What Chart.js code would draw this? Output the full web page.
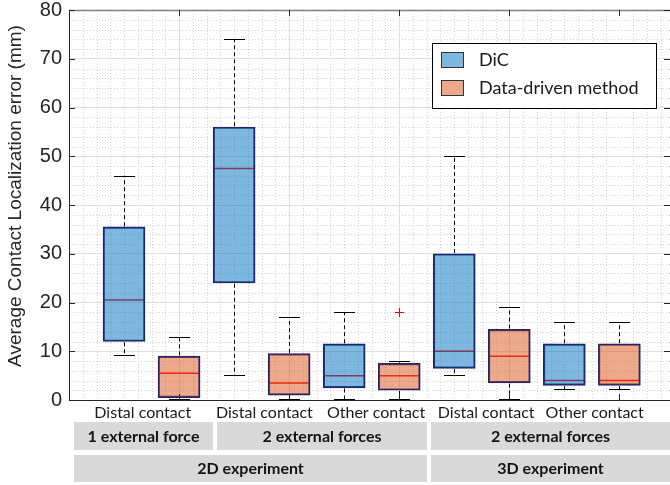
<!DOCTYPE html>
<html>
<head>
<meta charset="utf-8">
<script src="https://cdn.jsdelivr.net/npm/chart.js@4"></script>
<style>
  html, body { margin: 0; padding: 0; background: #ffffff; }
  canvas { display: block; }
</style>
</head>
<body>
<canvas id="chart" width="670" height="485"></canvas>
<script>
// Contact-type label under each pair of boxes
const contactTypes = ['Distal contact', 'Distal contact', 'Other contact', 'Distal contact', 'Other contact'];
// Header rows below the axis, and which pairs they cover
const forceGroups = ['1 external force', '2 external forces', '2 external forces'];
const forcePairs = [[0, 0], [1, 2], [3, 4]];
const experiments = ['2D experiment', '3D experiment'];
const experimentPairs = [[0, 2], [3, 4]];
const seriesNames = ['DiC', 'Data-driven method'];
const yTitle = 'Average Contact Localization error (mm)';

// Box statistics (mm): lower whisker, Q1, median, Q3, upper whisker
const dicMin = [9, 5, 0, 5, 2];
const dicQ1 = [12, 24, 2.5, 6.5, 3];
const dicMedian = [20.5, 47.5, 5, 10, 4];
const dicQ3 = [35.5, 56, 11.5, 30, 11.5];
const dicMax = [46, 74, 18, 50, 16];
const dicOutliers = [[], [], [], [], []];

const ddMin = [0, 0, 0, 0, 2];
const ddQ1 = [0.5, 1, 2, 3.5, 3];
const ddMedian = [5.5, 3.5, 5, 9, 4];
const ddQ3 = [9, 9.5, 7.5, 14.5, 11.5];
const ddMax = [13, 17, 8, 19, 16];
const ddOutliers = [[], [], [18], [], []];

const yTicks = [0, 10, 20, 30, 40, 50, 60, 70, 80];

const stats = [
  { min: dicMin, q1: dicQ1, med: dicMedian, q3: dicQ3, max: dicMax, out: dicOutliers },
  { min: ddMin, q1: ddQ1, med: ddMedian, q3: ddQ3, max: ddMax, out: ddOutliers }
];

// Position of series s within pair k on the numeric x axis
const posOf = (k, s) => 2 * k + 1 + s;

const boxData = stats.map((st, s) =>
  st.q1.map((q1, k) => ({ x: posOf(k, s), y: [q1, st.q3[k]] }))
);

const AXIS = '#262626';
const UI_FONT = 'Lato, "Open Sans", sans-serif';
const AX_FONT = '"Liberation Sans", Arial, sans-serif';

function seg(ctx, x1, y1, x2, y2) {
  ctx.beginPath(); ctx.moveTo(x1, y1); ctx.lineTo(x2, y2); ctx.stroke();
}

const boxDecor = {
  id: 'boxDecor',
  beforeDraw(chart, args, o) {
    const { ctx, chartArea: a, scales: { x, y } } = chart;
    ctx.save();
    ctx.strokeStyle = o.minorColor;
    ctx.lineWidth = 1;
    ctx.setLineDash([1, 2]);
    for (let i = 1; x.min + i * 0.25 < x.max; i++) {
      if (i % 8 === 0) continue;
      const px = Math.round(x.getPixelForValue(x.min + i * 0.25)) + 0.5;
      seg(ctx, px, a.top, px, a.bottom);
    }
    for (let v = 2; v < y.max; v += 2) {
      if (v % 10 === 0) continue;
      const py = Math.round(y.getPixelForValue(v)) + 0.5;
      seg(ctx, a.left, py, a.right, py);
    }
    ctx.restore();
  },
  // medians go underneath the translucent box fill
  beforeDatasetsDraw(chart) {
    const { ctx, scales: { y } } = chart;
    ctx.save();
    ctx.strokeStyle = '#ff0000';
    ctx.lineWidth = 1.5;
    stats.forEach((st, s) => {
      const meta = chart.getDatasetMeta(s);
      meta.data.forEach((bar, k) => {
        const py = y.getPixelForValue(st.med[k]);
        seg(ctx, bar.x - bar.width / 2 + 1, py, bar.x + bar.width / 2 - 1, py);
      });
    });
    ctx.restore();
  },
  afterDatasetsDraw(chart) {
    const { ctx, scales: { y } } = chart;
    ctx.save();
    stats.forEach((st, s) => {
      const meta = chart.getDatasetMeta(s);
      meta.data.forEach((bar, k) => {
        const cx = Math.round(bar.x) + 0.5;
        const pMax = y.getPixelForValue(st.max[k]);
        const pMin = y.getPixelForValue(st.min[k]);
        const pQ3 = y.getPixelForValue(st.q3[k]);
        const pQ1 = y.getPixelForValue(st.q1[k]);
        ctx.strokeStyle = '#000000';
        ctx.lineWidth = 1;
        ctx.setLineDash([4, 3]);
        if (pMax < pQ3 - 1) seg(ctx, cx, pQ3 - 0.75, cx, pMax);
        if (pMin > pQ1 + 1) seg(ctx, cx, pQ1 + 0.75, cx, pMin);
        ctx.setLineDash([]);
        const cap = 10.5;
        seg(ctx, cx - cap, Math.round(pMax) + 0.5, cx + cap, Math.round(pMax) + 0.5);
        seg(ctx, cx - cap, Math.round(pMin) - 0.5, cx + cap, Math.round(pMin) - 0.5);
        ctx.strokeStyle = '#ff0000';
        st.out[k].forEach(v => {
          const py = Math.round(y.getPixelForValue(v)) + 0.5;
          seg(ctx, cx - 4.5, py, cx + 4.5, py);
          seg(ctx, cx, py - 4.5, cx, py + 4.5);
        });
      });
    });
    ctx.restore();
  },
  afterDraw(chart, args, o) {
    const { ctx, chartArea: a, scales: { x, y } } = chart;
    ctx.save();

    // top frame line
    ctx.strokeStyle = '#808080';
    ctx.lineWidth = 1.5;
    seg(ctx, a.left, a.top + 0.5, a.right, a.top + 0.5);

    // inward tick marks
    ctx.strokeStyle = AXIS;
    ctx.lineWidth = 1;
    const tl = 6;
    yTicks.forEach(v => {
      const py = Math.round(y.getPixelForValue(v)) + 0.5;
      seg(ctx, a.left, py, a.left + tl, py);
      seg(ctx, a.right, py, a.right - tl, py);
    });
    for (let v = 2; v < x.max; v += 2) {
      const px = Math.round(x.getPixelForValue(v)) + 0.5;
      seg(ctx, px, a.bottom, px, a.bottom - tl);
      seg(ctx, px, a.top, px, a.top + tl);
    }

    // y-axis title, rotated
    ctx.save();
    ctx.translate(o.titleX, a.top + o.titleMid);
    ctx.rotate(-Math.PI / 2);
    ctx.fillStyle = AXIS;
    ctx.font = '19px ' + AX_FONT;
    ctx.textAlign = 'center';
    ctx.textBaseline = 'middle';
    ctx.fillText(yTitle, 0, 0);
    ctx.restore();

    // legend box
    const lx = a.right - 238, ly = a.top + 33, lw = 224, lh = 65;
    ctx.fillStyle = '#ffffff';
    ctx.fillRect(lx, ly, lw, lh);
    ctx.strokeStyle = '#000000';
    ctx.lineWidth = 1;
    ctx.strokeRect(lx + 0.5, ly + 0.5, lw, lh);
    chart.data.datasets.forEach((ds, i) => {
      const py = ly + 9 + i * 28;
      ctx.fillStyle = ds.legendColor;
      ctx.fillRect(lx + 9, py, 23, 16);
      ctx.strokeStyle = '#333333';
      ctx.strokeRect(lx + 9.5, py + 0.5, 22, 15);
      ctx.fillStyle = '#1a1a1a';
      ctx.font = '18px ' + UI_FONT;
      ctx.textAlign = 'left';
      ctx.textBaseline = 'middle';
      ctx.fillText(ds.label, lx + 47, py + 8.5);
    });

    // contact-type labels
    ctx.fillStyle = '#1a1a1a';
    ctx.font = '16px ' + UI_FONT;
    ctx.textAlign = 'center';
    ctx.textBaseline = 'middle';
    contactTypes.forEach((t, k) => {
      ctx.fillText(t, x.getPixelForValue(o.labelAt[k]), a.bottom + 13);
    });

    // header cells
    const edges = o.cellEdges;
    const cellX = (k0, k1) => {
      const l = k0 === 0 ? a.left + 4.5 : x.getPixelForValue(edges[k0]) + 2;
      const r = k1 === edges.length - 2 ? a.right : x.getPixelForValue(edges[k1 + 1]) - 2;
      return [Math.round(l), Math.round(r)];
    };
    const row = (names, spans, top, h) => {
      names.forEach((t, i) => {
        const [l, r] = cellX(spans[i][0], spans[i][1]);
        ctx.fillStyle = '#d9d9d9';
        ctx.fillRect(l, top, r - l, h);
        ctx.fillStyle = '#141414';
        ctx.font = 'bold 16px ' + UI_FONT;
        ctx.fillText(t, (l + r) / 2, top + h / 2 + 0.5);
      });
    };
    row(forceGroups, forcePairs, a.bottom + 22, 28);
    row(experiments, experimentPairs, a.bottom + 55, 27);

    ctx.restore();
  }
};

new Chart(document.getElementById('chart'), {
  type: 'bar',
  data: {
    datasets: [
      {
        label: seriesNames[0],
        data: boxData[0],
        backgroundColor: 'rgba(0,114,189,0.5)',
        legendColor: '#7fb8de',
        borderColor: '#24246a',
        borderWidth: 1.5,
        borderSkipped: false,
        grouped: false,
        barThickness: 42
      },
      {
        label: seriesNames[1],
        data: boxData[1],
        backgroundColor: 'rgba(217,83,25,0.5)',
        legendColor: '#eca98c',
        borderColor: '#24246a',
        borderWidth: 1.5,
        borderSkipped: false,
        grouped: false,
        barThickness: 42
      }
    ]
  },
  options: {
    responsive: false,
    animation: false,
    devicePixelRatio: 1,
    layout: { padding: { top: 10, right: 0, bottom: 85, left: 0 } },
    plugins: {
      legend: { display: false },
      tooltip: { enabled: false },
      boxDecor: {
        minorColor: '#d4d4d4',
        labelAt: [1.34, 3.55, 5.58, 7.58, 9.55],
        cellEdges: [0, 2.655, 4.6, 6.545, 8.6, 10.93],
        titleX: 16,
        titleMid: 186
      }
    },
    scales: {
      x: {
        type: 'linear',
        offset: false,
        min: 0,
        max: 10.92,
        afterFit: s => { s.height = 0; s.paddingLeft = 0; s.paddingRight = 0; },
        ticks: { display: false, stepSize: 2 },
        grid: { color: '#dfdfdf', lineWidth: 1, drawTicks: false, offset: false },
        border: { color: AXIS, width: 1 }
      },
      y: {
        min: 0,
        max: 80,
        afterFit: s => { s.width = 69; s.paddingTop = 0; s.paddingBottom = 0; },
        afterBuildTicks: s => { s.ticks = yTicks.map(v => ({ value: v })); },
        ticks: {
          color: AXIS,
          padding: 7,
          font: { family: AX_FONT, size: 20 }
        },
        grid: { color: '#dfdfdf', lineWidth: 1, drawTicks: false },
        border: { color: AXIS, width: 1 }
      }
    }
  },
  plugins: [boxDecor]
});
</script>
</body>
</html>
